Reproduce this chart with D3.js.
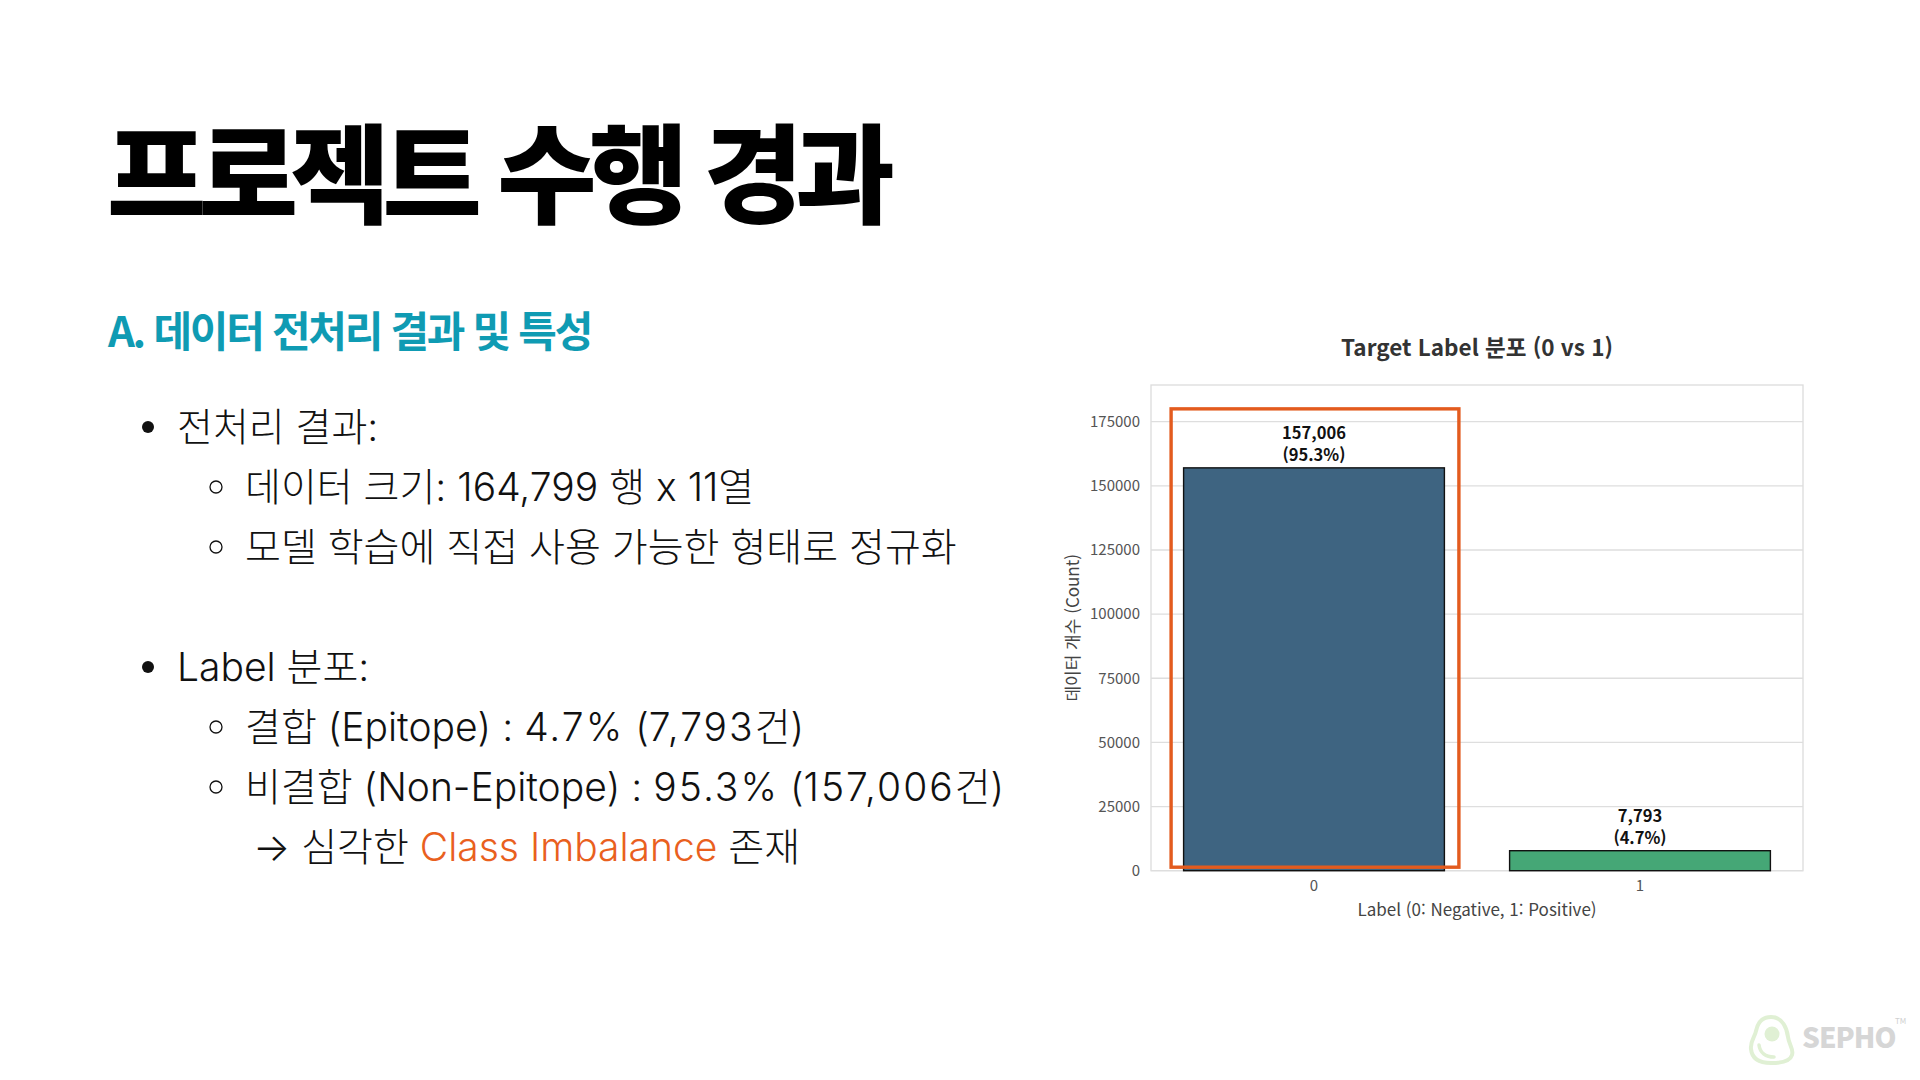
<!DOCTYPE html>
<html lang="ko">
<head>
<meta charset="utf-8">
<script src="https://cdn.jsdelivr.net/npm/d3@7/dist/d3.min.js"></script>
<style>
  html, body { margin: 0; padding: 0; background: #fff; }
  body { width: 1920px; height: 1080px; overflow: hidden; }
  svg { display: block; }
</style>
</head>
<body>
<svg id="slide" width="1920" height="1080"></svg>
<script>
// ---------- data ----------
const slideTitle = "프로젝트 수행 경과";
const sectionTitle = "A. 데이터 전처리 결과 및 특성";
const categories = ["0", "1"];
const counts = [157006, 7793];
const percents = ["95.3%", "4.7%"];
const barColors = ["#3e6481", "#45a776"];
const yTicks = [0, 25000, 50000, 75000, 100000, 125000, 150000, 175000];
const yMax = 189300;
const chartTitle = "Target Label 분포 (0 vs 1)";
const xAxisTitle = "Label (0: Negative, 1: Positive)";
const yAxisTitle = "데이터 개수 (Count)";
const highlightCategory = "0";

const bulletLines = [
  { level: 1, parts: [{ t: "전처리 결과:" }] },
  { level: 2, parts: [{ t: "데이터 크기: 164,799 행 x 11열" }] },
  { level: 2, parts: [{ t: "모델 학습에 직접 사용 가능한 형태로 정규화" }] },
  { level: 0, parts: [] },
  { level: 1, parts: [{ t: "Label 분포:" }] },
  { level: 2, parts: [{ t: "결합 (Epitope) : 4.7% (7,793건)" }] },
  { level: 2, parts: [{ t: "비결합 (Non-Epitope) : 95.3% (157,006건)" }] },
  { level: 3, parts: [{ t: "→ 심각한 " }, { t: "Class Imbalance", accent: true }, { t: " 존재" }] }
];

// ---------- slide ----------
const svg = d3.select("#slide");
const FONT = "'Noto Sans CJK KR', 'Noto Sans', sans-serif";
const BODY_FONT = "Inter, 'Noto Sans CJK KR', sans-serif";

svg.append("text")
  .attr("x", 107).attr("y", 215)
  .attr("font-family", FONT).attr("font-weight", 900)
  .attr("font-size", 108).attr("letter-spacing", -7.5)
  .attr("fill", "#000")
  .text(slideTitle);

svg.append("text")
  .attr("x", 108).attr("y", 347)
  .attr("font-family", FONT).attr("font-weight", 700)
  .attr("font-size", 42).attr("letter-spacing", -2.3)
  .attr("fill", "#0f9bb3")
  .text(sectionTitle);

const lineY = d3.scaleLinear().domain([0, 1]).range([427, 487]);
const textG = svg.append("g").attr("font-family", BODY_FONT).attr("font-size", 39)
  .attr("font-weight", 300).attr("fill", "#111");

bulletLines.forEach((ln, i) => {
  if (ln.level === 0) return;
  const cy = lineY(i);
  if (ln.level === 1) {
    textG.append("circle").attr("cx", 148).attr("cy", cy).attr("r", 6).attr("fill", "#111");
  } else if (ln.level === 2) {
    textG.append("circle").attr("cx", 216).attr("cy", cy).attr("r", 6)
      .attr("fill", "none").attr("stroke", "#111").attr("stroke-width", 1.3);
  }
  const x0 = ln.level === 1 ? 177 : ln.level === 2 ? 245 : 253;
  const t = textG.append("text").attr("x", x0).attr("y", cy).attr("dy", "0.36em");
  const wideDigits = ln.parts.some(p => p.t.includes("%"));
  ln.parts.forEach(p => {
    const color = p.accent ? "#e9601e" : "#111";
    if (!wideDigits) {
      t.append("tspan").attr("fill", color).text(p.t);
    } else {
      // numeric runs are set a little wider, as in the original slide
      p.t.split(/([0-9][0-9.,%]*)/).filter(s => s.length).forEach(seg => {
        const ts = t.append("tspan").attr("fill", color).text(seg);
        if (/^[0-9]/.test(seg)) ts.attr("letter-spacing", 2);
      });
    }
  });
});

// ---------- chart ----------
const plot = { left: 1151, right: 1803, top: 385, bottom: 870.7 };

const x = d3.scaleBand().domain(categories).range([plot.left, plot.right])
  .paddingInner(0.2).paddingOuter(0.1);
const y = d3.scaleLinear().domain([0, yMax]).range([plot.bottom, plot.top]);

const chart = svg.append("g").attr("font-family", FONT);

// frame
chart.append("rect")
  .attr("x", plot.left).attr("y", plot.top)
  .attr("width", plot.right - plot.left).attr("height", plot.bottom - plot.top)
  .attr("fill", "none").attr("stroke", "#dcdcdc").attr("stroke-width", 1.3);

// grid
chart.append("g").selectAll("line").data(yTicks).join("line")
  .attr("x1", plot.left).attr("x2", plot.right)
  .attr("y1", d => y(d)).attr("y2", d => y(d))
  .attr("stroke", "#dedede").attr("stroke-width", 1.3);

// y axis
const yAxis = chart.append("g").attr("transform", `translate(${plot.left},0)`)
  .call(d3.axisLeft(y).tickValues(yTicks).tickFormat(d3.format("d")).tickSize(0).tickPadding(11));
yAxis.select(".domain").remove();
yAxis.selectAll("text").attr("font-size", 15).attr("fill", "#555").attr("font-family", FONT);

// x axis
const xAxis = chart.append("g").attr("transform", `translate(0,${plot.bottom})`)
  .call(d3.axisBottom(x).tickSize(0).tickPadding(10));
xAxis.select(".domain").remove();
xAxis.selectAll("text").attr("font-size", 15).attr("fill", "#555").attr("font-family", FONT);

// bars
chart.append("g").selectAll("rect").data(categories).join("rect")
  .attr("x", d => x(d)).attr("width", x.bandwidth())
  .attr("y", (d, i) => y(counts[i]))
  .attr("height", (d, i) => y(0) - y(counts[i]))
  .attr("fill", (d, i) => barColors[i])
  .attr("stroke", "#111").attr("stroke-width", 1.4);

// bar labels (two separate lines)
const lblG = chart.append("g").attr("text-anchor", "middle").attr("font-size", 16.5)
  .attr("font-weight", 700).attr("fill", "#111");
lblG.selectAll("text.cnt").data(categories).join("text").attr("class", "cnt")
  .attr("x", d => x(d) + x.bandwidth() / 2)
  .attr("y", (d, i) => y(counts[i]) - 29)
  .text((d, i) => d3.format(",")(counts[i]));
lblG.selectAll("text.pct").data(categories).join("text").attr("class", "pct")
  .attr("x", d => x(d) + x.bandwidth() / 2)
  .attr("y", (d, i) => y(counts[i]) - 7)
  .text((d, i) => `(${percents[i]})`);

// titles
chart.append("text")
  .attr("x", (plot.left + plot.right) / 2).attr("y", 356)
  .attr("text-anchor", "middle").attr("font-size", 22.5).attr("font-weight", 700).attr("fill", "#333")
  .text(chartTitle);

chart.append("text")
  .attr("x", (plot.left + plot.right) / 2).attr("y", 916)
  .attr("text-anchor", "middle").attr("font-size", 17).attr("fill", "#444")
  .text(xAxisTitle);

chart.append("text")
  .attr("transform", `translate(1079,${(plot.top + plot.bottom) / 2}) rotate(-90)`)
  .attr("text-anchor", "middle").attr("font-size", 17).attr("fill", "#444")
  .text(yAxisTitle);

// highlight box
chart.append("rect")
  .attr("x", x(highlightCategory) - 12.5)
  .attr("y", y(180000))
  .attr("width", x.bandwidth() + 27)
  .attr("height", y(0) - 3.5 - y(180000))
  .attr("fill", "none").attr("stroke", "#e35b1e").attr("stroke-width", 3.4);

// ---------- logo ----------
const logo = svg.append("g").attr("transform", "translate(1750,1015)");
logo.append("path")
  .attr("d", "M21,2 C33,2 37,14 38,22 C39,30 44,34 42,40 C40,47 30,48 21,48 C10,48 2,44 1,34 C0,26 5,22 6,16 C8,6 13,2 21,2 Z")
  .attr("fill", "none").attr("stroke", "#e0f0d4").attr("stroke-width", 4);
logo.append("circle").attr("cx", 22).attr("cy", 19).attr("r", 7.5).attr("fill", "#e0f0d4");
logo.append("path").attr("d", "M9,30 C10,38 16,42 24,42")
  .attr("fill", "none").attr("stroke", "#e0f0d4").attr("stroke-width", 3.5).attr("stroke-linecap", "round");
logo.append("text").attr("x", 52).attr("y", 33)
  .attr("font-family", FONT).attr("font-weight", 900).attr("font-size", 28).attr("letter-spacing", -1)
  .attr("fill", "#d6d6d6").text("SEPHO");
logo.append("text").attr("x", 145).attr("y", 9)
  .attr("font-family", FONT).attr("font-size", 8).attr("fill", "#d0d0d0").text("TM");
</script>
</body>
</html>
